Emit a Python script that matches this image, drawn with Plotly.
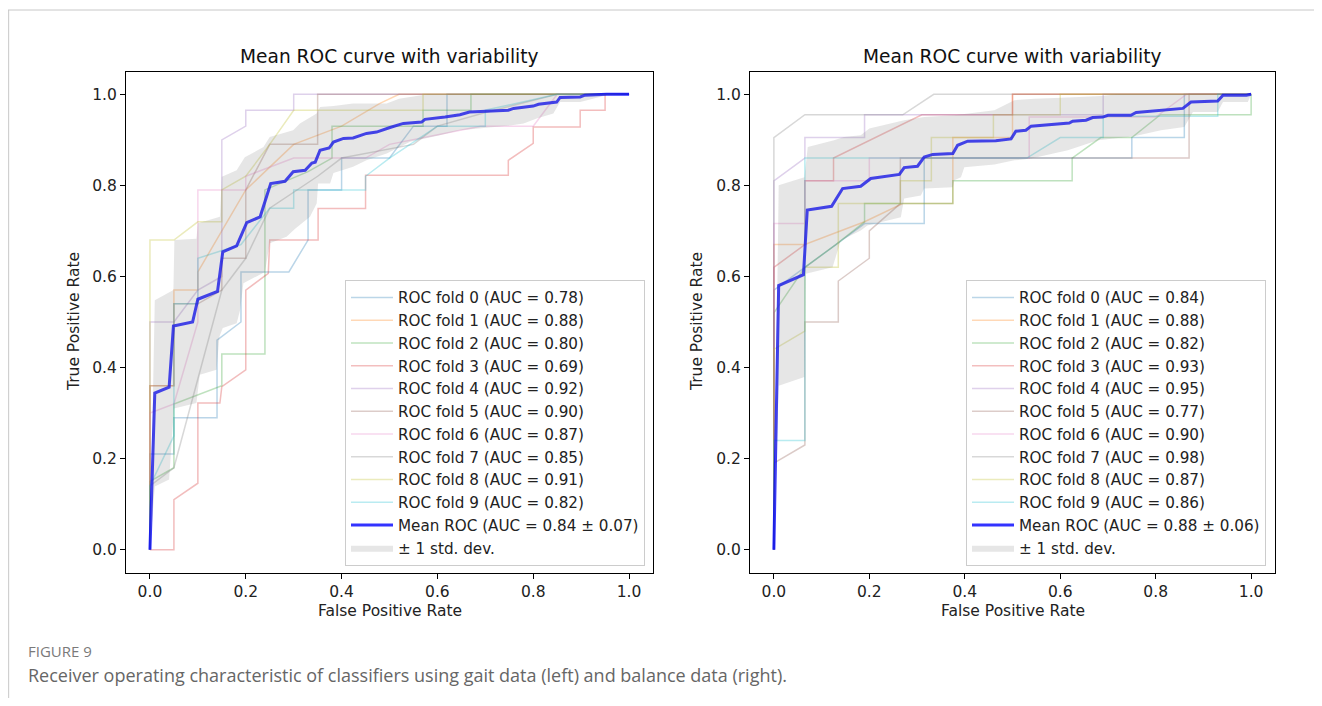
import plotly.graph_objects as go

# Page is rendered inside an 8px body margin; positions below are reference-page pixels.
OFF = 8
W, H = 1314, 690

# ---------------- data: left panel (gait data) ----------------
fold_labels_L = ["ROC fold 0 (AUC = 0.78)", "ROC fold 1 (AUC = 0.88)", "ROC fold 2 (AUC = 0.80)",
                 "ROC fold 3 (AUC = 0.69)", "ROC fold 4 (AUC = 0.92)", "ROC fold 5 (AUC = 0.90)",
                 "ROC fold 6 (AUC = 0.87)", "ROC fold 7 (AUC = 0.85)", "ROC fold 8 (AUC = 0.91)",
                 "ROC fold 9 (AUC = 0.82)"]
L0_fpr = [0, 0, 0.05, 0.05, 0.14, 0.14, 0.19, 0.19, 0.29, 0.33, 0.33, 0.40, 0.40, 0.50, 0.55, 0.62, 0.62, 1]
L0_tpr = [0, 0.21, 0.21, 0.29, 0.29, 0.46, 0.50, 0.61, 0.61, 0.68, 0.79, 0.79, 0.86, 0.86, 0.93, 0.93, 1.0, 1]
L1_fpr = [0, 0, 0.05, 0.05, 0.10, 0.10, 0.15, 0.20, 0.25, 0.30, 0.40, 0.48, 0.52, 1]
L1_tpr = [0, 0.36, 0.36, 0.57, 0.57, 0.61, 0.70, 0.79, 0.84, 0.89, 0.93, 0.98, 1.0, 1]
L2_fpr = [0, 0, 0.05, 0.05, 0.15, 0.15, 0.24, 0.24, 0.33, 0.38, 0.38, 0.57, 0.57, 0.67, 0.67, 1]
L2_tpr = [0, 0.15, 0.18, 0.32, 0.36, 0.43, 0.43, 0.79, 0.83, 0.86, 0.93, 0.93, 0.965, 0.965, 1.0, 1]
L3_fpr = [0, 0.05, 0.05, 0.10, 0.10, 0.146, 0.15, 0.20, 0.20, 0.247, 0.25, 0.351, 0.351, 0.45, 0.45,
          0.748, 0.748, 0.80, 0.80, 0.898, 0.898, 0.95, 0.95, 1]
L3_tpr = [0, 0, 0.11, 0.146, 0.322, 0.322, 0.358, 0.395, 0.57, 0.607, 0.68, 0.68, 0.749, 0.749, 0.822,
          0.822, 0.855, 0.892, 0.928, 0.928, 0.965, 0.965, 1.0, 1]
L4_fpr = [0, 0, 0.05, 0.10, 0.15, 0.15, 0.20, 0.20, 0.30, 0.30, 1]
L4_tpr = [0, 0.50, 0.50, 0.57, 0.60, 0.90, 0.93, 0.965, 0.965, 1.0, 1]
L5_fpr = [0, 0, 0.05, 0.05, 0.10, 0.15, 0.15, 0.20, 0.20, 0.25, 0.35, 0.35, 1]
L5_tpr = [0, 0.36, 0.36, 0.54, 0.54, 0.57, 0.64, 0.64, 0.79, 0.89, 0.89, 1.0, 1]
L6_fpr = [0, 0, 0.05, 0.10, 0.10, 0.20, 0.20, 0.30, 0.45, 0.50, 0.69, 0.80, 0.85, 1]
L6_tpr = [0, 0.30, 0.32, 0.50, 0.79, 0.79, 0.82, 0.86, 0.86, 0.89, 0.93, 0.93, 1.0, 1]
L7_fpr = [0, 0, 0.05, 0.15, 0.20, 0.25, 0.35, 0.40, 0.55, 0.60, 0.70, 0.85, 1]
L7_tpr = [0, 0.14, 0.18, 0.57, 0.64, 0.75, 0.82, 0.86, 0.89, 0.93, 0.96, 1.0, 1]
L8_fpr = [0, 0, 0.05, 0.10, 0.15, 0.15, 0.20, 0.25, 0.30, 0.57, 0.57, 1]
L8_tpr = [0, 0.68, 0.68, 0.72, 0.72, 0.79, 0.82, 0.89, 0.965, 0.965, 1.0, 1]
L9_fpr = [0, 0, 0.05, 0.05, 0.10, 0.10, 0.19, 0.25, 0.30, 0.30, 0.45, 0.45, 0.50, 0.60, 0.70, 0.70, 0.85, 1]
L9_tpr = [0, 0.14, 0.25, 0.54, 0.54, 0.64, 0.67, 0.75, 0.75, 0.79, 0.79, 0.82, 0.86, 0.93, 0.93, 0.965, 1.0, 1]

L_mean_fpr = [0, 0.0101, 0.04, 0.049, 0.089, 0.10, 0.141, 0.152, 0.181, 0.202, 0.23, 0.252, 0.282, 0.299,
              0.324, 0.338, 0.345, 0.355, 0.374, 0.383, 0.404, 0.424, 0.452, 0.473, 0.501, 0.529, 0.567,
              0.574, 0.616, 0.647, 0.667, 0.703, 0.748, 0.759, 0.80, 0.811, 0.849, 0.856, 0.898, 0.908,
              0.953, 1.0]
L_mean_tpr = [0, 0.344, 0.357, 0.491, 0.50, 0.55, 0.567, 0.654, 0.667, 0.718, 0.731, 0.804, 0.809, 0.83,
              0.833, 0.849, 0.851, 0.877, 0.882, 0.895, 0.903, 0.904, 0.914, 0.917, 0.927, 0.936, 0.939,
              0.945, 0.95, 0.955, 0.961, 0.963, 0.965, 0.969, 0.974, 0.978, 0.983, 0.993, 0.994, 0.998,
              1.0, 1.0]
L_up_fpr = [0, 0.0101, 0.049, 0.051, 0.097, 0.10, 0.146, 0.15, 0.181, 0.198, 0.237, 0.25, 0.299, 0.313,
            0.348, 0.355, 0.383, 0.424, 0.494, 0.52, 0.58, 1.0]
L_up_tpr = [0, 0.548, 0.57, 0.68, 0.683, 0.717, 0.731, 0.819, 0.833, 0.862, 0.884, 0.906, 0.921, 0.936,
            0.958, 0.972, 0.974, 0.98, 0.98, 0.99, 1.0, 1.0]
L_lo_fpr = [0, 0.0101, 0.04, 0.05, 0.097, 0.104, 0.139, 0.145, 0.152, 0.181, 0.188, 0.191, 0.195, 0.24,
            0.25, 0.285, 0.303, 0.334, 0.348, 0.351, 0.376, 0.383, 0.424, 0.452, 0.494, 0.543, 0.605,
            0.647, 0.71, 0.755, 0.78, 0.807, 0.842, 0.856, 0.898, 0.912, 0.953, 1.0]
L_lo_tpr = [0, 0.139, 0.154, 0.31, 0.322, 0.384, 0.395, 0.468, 0.487, 0.497, 0.526, 0.55, 0.585, 0.61,
            0.673, 0.687, 0.705, 0.731, 0.76, 0.804, 0.804, 0.827, 0.841, 0.855, 0.87, 0.896, 0.91,
            0.921, 0.928, 0.932, 0.936, 0.947, 0.958, 0.983, 0.983, 0.988, 0.998, 1.0]
L_mean_label = "Mean ROC (AUC = 0.84 ± 0.07)"

# ---------------- data: right panel (balance data) ----------------
fold_labels_R = ["ROC fold 0 (AUC = 0.84)", "ROC fold 1 (AUC = 0.88)", "ROC fold 2 (AUC = 0.82)",
                 "ROC fold 3 (AUC = 0.93)", "ROC fold 4 (AUC = 0.95)", "ROC fold 5 (AUC = 0.77)",
                 "ROC fold 6 (AUC = 0.90)", "ROC fold 7 (AUC = 0.98)", "ROC fold 8 (AUC = 0.87)",
                 "ROC fold 9 (AUC = 0.86)"]
R0_fpr = [0, 0, 0.065, 0.19, 0.315, 0.315, 0.75, 0.75, 0.86, 0.86, 1]
R0_tpr = [0, 0.57, 0.62, 0.716, 0.716, 0.86, 0.86, 0.905, 0.905, 1.0, 1]
R1_fpr = [0, 0, 0.065, 0.19, 0.27, 0.375, 0.375, 0.50, 0.50, 1]
R1_tpr = [0, 0.67, 0.67, 0.72, 0.76, 0.76, 0.905, 0.905, 1.0, 1]
R2_fpr = [0, 0, 0.065, 0.13, 0.19, 0.19, 0.375, 0.375, 0.625, 0.625, 0.685, 0.75, 0.81, 1.0, 1.0]
R2_tpr = [0, 0.52, 0.62, 0.67, 0.72, 0.76, 0.76, 0.81, 0.81, 0.86, 0.905, 0.905, 0.955, 0.955, 1.0]
R3_fpr = [0, 0, 0.065, 0.065, 0.125, 0.125, 0.31, 0.50, 0.50, 1]
R3_tpr = [0, 0.62, 0.67, 0.81, 0.81, 0.86, 0.955, 0.955, 1.0, 1]
R4_fpr = [0, 0, 0.065, 0.065, 0.19, 0.19, 0.69, 0.69, 1]
R4_tpr = [0, 0.81, 0.86, 0.905, 0.905, 0.955, 0.955, 1.0, 1]
R5_fpr = [0, 0, 0.065, 0.065, 0.135, 0.135, 0.20, 0.20, 0.265, 0.265, 0.87, 0.87, 1]
R5_tpr = [0, 0.19, 0.23, 0.50, 0.50, 0.59, 0.64, 0.70, 0.76, 0.86, 0.86, 1.0, 1]
R6_fpr = [0, 0, 0.065, 0.065, 0.20, 0.20, 0.535, 0.535, 0.80, 0.865, 1]
R6_tpr = [0, 0.716, 0.716, 0.81, 0.81, 0.86, 0.86, 0.95, 0.95, 1.0, 1]
R7_fpr = [0, 0, 0.065, 0.27, 0.335, 1]
R7_tpr = [0, 0.905, 0.955, 0.955, 1.0, 1]
R8_fpr = [0, 0, 0.065, 0.065, 0.135, 0.135, 0.265, 0.265, 0.33, 0.33, 0.46, 0.46, 0.60, 0.60, 1]
R8_tpr = [0, 0.44, 0.48, 0.62, 0.62, 0.76, 0.76, 0.81, 0.81, 0.905, 0.905, 0.955, 0.955, 1.0, 1]
R9_fpr = [0, 0, 0.065, 0.065, 0.53, 0.60, 0.69, 0.69, 0.93, 0.93, 1]
R9_tpr = [0, 0.24, 0.24, 0.86, 0.86, 0.905, 0.905, 0.952, 0.952, 1.0, 1]

R_mean_fpr = [0, 0.0101, 0.062, 0.07, 0.121, 0.144, 0.182, 0.203, 0.263, 0.273, 0.301, 0.315, 0.333, 0.375,
              0.385, 0.406, 0.465, 0.497, 0.507, 0.528, 0.539, 0.619, 0.626, 0.654, 0.668, 0.689, 0.70,
              0.748, 0.759, 0.857, 0.874, 0.93, 0.941, 0.99, 1.0]
R_mean_tpr = [0, 0.58, 0.604, 0.746, 0.754, 0.793, 0.798, 0.815, 0.824, 0.839, 0.842, 0.862, 0.868, 0.87,
              0.888, 0.897, 0.898, 0.902, 0.919, 0.921, 0.93, 0.937, 0.941, 0.943, 0.949, 0.95, 0.954,
              0.954, 0.96, 0.969, 0.983, 0.985, 0.998, 0.998, 1.0]
R_up_fpr = [0, 0.0101, 0.064, 0.071, 0.126, 0.147, 0.182, 0.2, 0.273, 0.315, 0.378, 0.42, 0.462, 0.504,
            0.546, 0.616, 0.686, 0.72, 1.0]
R_up_tpr = [0, 0.80, 0.818, 0.884, 0.899, 0.906, 0.91, 0.925, 0.943, 0.95, 0.954, 0.96, 0.965, 0.987,
            0.99, 0.993, 0.996, 1.0, 1.0]
R_lo_fpr = [0, 0.0101, 0.064, 0.067, 0.123, 0.14, 0.182, 0.196, 0.266, 0.273, 0.308, 0.315, 0.375, 0.378,
            0.392, 0.399, 0.462, 0.504, 0.539, 0.616, 0.679, 0.755, 0.811, 0.86, 0.878, 0.93, 0.941,
            0.993, 1.0]
R_lo_tpr = [0, 0.36, 0.379, 0.606, 0.62, 0.679, 0.701, 0.712, 0.73, 0.771, 0.778, 0.793, 0.796, 0.811,
            0.818, 0.84, 0.846, 0.855, 0.859, 0.877, 0.899, 0.908, 0.921, 0.928, 0.961, 0.961, 0.983,
            0.983, 1.0]
R_mean_label = "Mean ROC (AUC = 0.88 ± 0.06)"

tick_vals = [0.0, 0.2, 0.4, 0.6, 0.8, 1.0]
tick_text = ["0.0", "0.2", "0.4", "0.6", "0.8", "1.0"]
panel_title = "Mean ROC curve with variability"
x_title = "False Positive Rate"
y_title = "True Positive Rate"
fig_label = "FIGURE 9"
caption = "Receiver operating characteristic of classifiers using gait data (left) and balance data (right)."
std_label = "± 1 std. dev."

# ---------------- styling ----------------
tab10 = ["#1f77b4", "#ff7f0e", "#2ca02c", "#d62728", "#9467bd",
         "#8c564b", "#e377c2", "#7f7f7f", "#bcbd22", "#17becf"]
FONT = "DejaVu Sans"


def px(x):
    return (x - OFF) / W


def py(y):
    return 1 - (y - OFF) / H


folds_L = [(L0_fpr, L0_tpr), (L1_fpr, L1_tpr), (L2_fpr, L2_tpr), (L3_fpr, L3_tpr), (L4_fpr, L4_tpr),
           (L5_fpr, L5_tpr), (L6_fpr, L6_tpr), (L7_fpr, L7_tpr), (L8_fpr, L8_tpr), (L9_fpr, L9_tpr)]
folds_R = [(R0_fpr, R0_tpr), (R1_fpr, R1_tpr), (R2_fpr, R2_tpr), (R3_fpr, R3_tpr), (R4_fpr, R4_tpr),
           (R5_fpr, R5_tpr), (R6_fpr, R6_tpr), (R7_fpr, R7_tpr), (R8_fpr, R8_tpr), (R9_fpr, R9_tpr)]

fig = go.Figure()


def add_panel(folds, labels, mfpr, mtpr, mlabel, ufpr, utpr, lfpr, ltpr, xa, ya, leg):
    for i, (fx, fy) in enumerate(folds):
        fig.add_trace(go.Scatter(x=fx, y=fy, mode="lines", name=labels[i],
                                 line=dict(color=tab10[i], width=1.5), opacity=0.3,
                                 xaxis=xa, yaxis=ya, legend=leg))
    fig.add_trace(go.Scatter(x=mfpr, y=mtpr, mode="lines", name=mlabel,
                             line=dict(color="#0000ff", width=3), opacity=0.8,
                             xaxis=xa, yaxis=ya, legend=leg))
    fig.add_trace(go.Scatter(x=list(ufpr) + list(lfpr)[::-1], y=list(utpr) + list(ltpr)[::-1],
                             mode="lines", fill="toself", fillcolor="rgba(128,128,128,0.2)",
                             line=dict(width=0, color="rgba(128,128,128,0)"), name=std_label,
                             xaxis=xa, yaxis=ya, legend=leg))


add_panel(folds_L, fold_labels_L, L_mean_fpr, L_mean_tpr, L_mean_label,
          L_up_fpr, L_up_tpr, L_lo_fpr, L_lo_tpr, "x", "y", "legend")
add_panel(folds_R, fold_labels_R, R_mean_fpr, R_mean_tpr, R_mean_label,
          R_up_fpr, R_up_tpr, R_lo_fpr, R_lo_tpr, "x2", "y2", "legend2")

ax_top, ax_bot = 71.5, 572.5
Lx0, Lx1 = 126, 653
Rx0, Rx1 = 750, 1275
ydom = [py(ax_bot), py(ax_top)]

axis_common = dict(range=[-0.05, 1.05], showgrid=False, zeroline=False, showline=True, mirror=True,
                   linecolor="black", linewidth=1.2, ticks="outside", ticklen=5, tickwidth=1.2,
                   tickcolor="black", tickvals=tick_vals, ticktext=tick_text,
                   tickfont=dict(family=FONT, size=15.5, color="#222"))

legend_common = dict(bgcolor="rgba(255,255,255,0.8)", bordercolor="#cccccc", borderwidth=1,
                     font=dict(family=FONT, size=15.2, color="#222"), xanchor="right", yanchor="bottom",
                     itemwidth=42, tracegroupgap=0)

fig.update_layout(
    width=W, height=H, margin=dict(l=0, r=0, t=0, b=0),
    paper_bgcolor="white", plot_bgcolor="white",
    xaxis=dict(domain=[px(Lx0), px(Lx1)], anchor="y", **axis_common),
    yaxis=dict(domain=ydom, anchor="x", **axis_common),
    xaxis2=dict(domain=[px(Rx0), px(Rx1)], anchor="y2", **axis_common),
    yaxis2=dict(domain=ydom, anchor="x2", **axis_common),
    legend=dict(x=px(645), y=py(566), **legend_common),
    legend2=dict(x=px(1266), y=py(566), **legend_common),
    showlegend=True,
)

ann = []
for cx in [(Lx0 + Lx1) / 2, (Rx0 + Rx1) / 2]:
    ann.append(dict(text=panel_title, x=px(cx), y=py(56), xref="paper", yref="paper",
                    xanchor="center", yanchor="middle", showarrow=False,
                    font=dict(family=FONT, size=18.6, color="#111")))
    ann.append(dict(text=x_title, x=px(cx), y=py(611), xref="paper", yref="paper",
                    xanchor="center", yanchor="middle", showarrow=False,
                    font=dict(family=FONT, size=15.5, color="#222")))
for yx in [74, 697]:
    ann.append(dict(text=y_title, x=px(yx), y=py(322), xref="paper", yref="paper",
                    xanchor="center", yanchor="middle", showarrow=False, textangle=-90,
                    font=dict(family=FONT, size=15.5, color="#222")))
ann.append(dict(text=fig_label, x=px(26), y=py(651), xref="paper", yref="paper",
                xanchor="left", yanchor="middle", showarrow=False,
                font=dict(family="Open Sans", size=15, color="#7a7a7a")))
ann.append(dict(text=caption, x=px(26), y=py(675), xref="paper", yref="paper",
                xanchor="left", yanchor="middle", showarrow=False,
                font=dict(family="Open Sans", size=18, color="#666666")))
fig.update_layout(annotations=ann)

fig.update_layout(shapes=[
    dict(type="line", xref="paper", yref="paper", x0=0, x1=1, y0=py(10), y1=py(10),
         line=dict(color="#c8c8c8", width=1)),
    dict(type="line", xref="paper", yref="paper", x0=0.0005, x1=0.0005, y0=0, y1=py(10),
         line=dict(color="#c8c8c8", width=1)),
])

fig.write_html("out.html")
